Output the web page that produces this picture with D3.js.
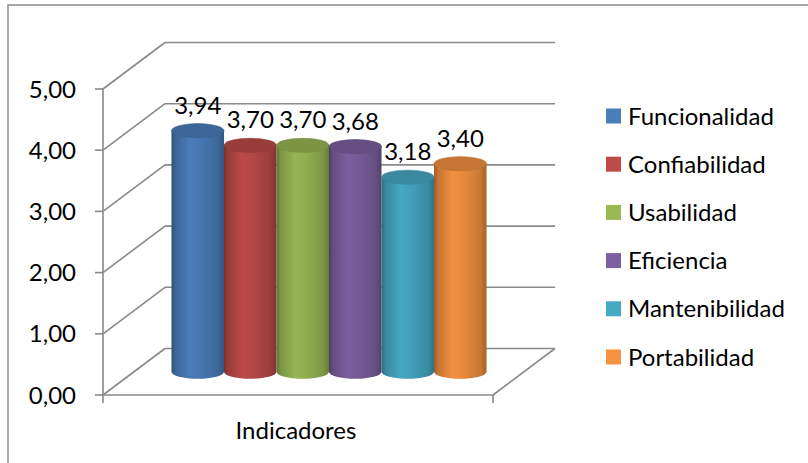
<!DOCTYPE html>
<html>
<head>
<meta charset="utf-8">
<script src="https://cdn.jsdelivr.net/npm/d3@7"></script>
<style>
  html, body { margin: 0; padding: 0; background: #fff; }
  svg { display: block; font-family: Lato, "Open Sans", sans-serif; }
</style>
</head>
<body>
<svg id="chart" width="808" height="463"></svg>
<script>
// Chart data
const categories = ["Indicadores"];
const seriesNames = ["Funcionalidad", "Confiabilidad", "Usabilidad", "Eficiencia", "Mantenibilidad", "Portabilidad"];
const seriesValues = [3.94, 3.70, 3.70, 3.68, 3.18, 3.40];
const seriesColors = ["#4A7EBB", "#BE4B48", "#98B954", "#7D60A0", "#46AAC5", "#F69240"];
const tickValues = [0, 1, 2, 3, 4, 5];

const svg = d3.select("#chart");
const locale = d3.formatLocale({ decimal: ",", thousands: ".", grouping: [3], currency: ["", ""] });
const fmt = locale.format(".2f");

// Front plane scales; the back wall is the front plane shifted by (depthX, depthY)
const yFront = d3.scaleLinear().domain([0, 5]).range([395, 89]);
const x0 = d3.scaleBand().domain(categories).range([103, 493]);
const x1 = d3.scaleBand().domain(seriesNames).range([0, x0.bandwidth()])
  .paddingInner(0).paddingOuter(0.714);
const depthX = 62, depthY = -46.5;
const gridColor = "#8a8a8a";
const fontSize = 24;

// Outer chart frame
svg.append("rect")
  .attr("x", 8).attr("y", 5).attr("width", 830).attr("height", 500)
  .attr("fill", "none").attr("stroke", gridColor).attr("stroke-width", 1.5);

const grid = svg.append("g").attr("stroke", gridColor).attr("stroke-width", 1.6).attr("fill", "none");
const xL = x0.range()[0], xR = x0.range()[1];

// Back wall gridlines and side wall diagonals
tickValues.forEach(t => {
  const yf = yFront(t), yb = yf + depthY;
  grid.append("line").attr("x1", xL + depthX).attr("y1", yb).attr("x2", xR + depthX).attr("y2", yb);
  grid.append("line").attr("x1", xL).attr("y1", yf).attr("x2", xL + depthX).attr("y2", yb);
  // tick marks on the value axis
  grid.append("line").attr("x1", xL - 8).attr("y1", yf).attr("x2", xL).attr("y2", yf);
});
// Value axis line, floor front and right edges
const y0 = yFront(0);
grid.append("line").attr("x1", xL).attr("y1", yFront(5)).attr("x2", xL).attr("y2", y0 + 8);
grid.append("line").attr("x1", xL).attr("y1", y0).attr("x2", xR).attr("y2", y0);
grid.append("line").attr("x1", xR).attr("y1", y0).attr("x2", xR + depthX).attr("y2", y0 + depthY);
grid.append("line").attr("x1", xR).attr("y1", y0).attr("x2", xR).attr("y2", y0 + 8);

// Value axis labels
svg.append("g").selectAll("text").data(tickValues).join("text")
  .attr("x", 76).attr("y", d => yFront(d))
  .attr("dy", "0.36em")
  .attr("text-anchor", "end")
  .attr("font-size", fontSize).attr("fill", "#000")
  .text(d => fmt(d));

// Category label
svg.append("text")
  .attr("x", x0(categories[0]) + x0.bandwidth() / 2 - 2).attr("y", 439)
  .attr("text-anchor", "middle").attr("font-size", fontSize).attr("fill", "#000")
  .text(categories[0]);

// Cylinder gradients: dark rim on the left, highlight left of centre, shading to the right
const defs = svg.append("defs");
seriesColors.forEach((c, i) => {
  const base = d3.color(c);
  const g = defs.append("linearGradient").attr("id", "cyl" + i)
    .attr("x1", 0).attr("x2", 1).attr("y1", 0).attr("y2", 0);
  [[0, base.darker(1.3)], [0.08, base.darker(0.6)], [0.35, base.darker(0.05)],
   [0.6, base.darker(0.2)], [0.88, base.darker(0.55)], [1, base.darker(1.1)]]
    .forEach(([o, col]) => g.append("stop").attr("offset", o).attr("stop-color", col.formatHex()));
});

// Cylinders stand halfway into the depth
const midX = depthX / 2, midY = depthY / 2;
const rx = x1.bandwidth() / 2, ry = 7;
const bars = svg.append("g");
seriesNames.forEach((name, i) => {
  const v = seriesValues[i];
  const left = x0(categories[0]) + x1(name) + midX;
  const right = left + x1.bandwidth();
  const cx = (left + right) / 2;
  const yTop = yFront(v) + midY;
  const yBot = yFront(0) + midY;
  bars.append("path")
    .attr("d", `M${left},${yTop} L${left},${yBot} A${rx},${ry} 0 0 0 ${right},${yBot} L${right},${yTop} Z`)
    .attr("fill", `url(#cyl${i})`);
  bars.append("ellipse")
    .attr("cx", cx).attr("cy", yTop).attr("rx", rx).attr("ry", ry)
    .attr("fill", d3.color(seriesColors[i]).darker(0.6).formatHex())
    .attr("stroke", d3.color(seriesColors[i]).darker(0.8).formatHex()).attr("stroke-width", 0.6);
  svg.append("text")
    .attr("x", cx).attr("y", yTop - 17)
    .attr("text-anchor", "middle").attr("font-size", fontSize).attr("fill", "#000")
    .text(fmt(v));
});

// Legend
const legend = svg.append("g").selectAll("g").data(seriesNames).join("g")
  .attr("transform", (d, i) => `translate(606, ${116 + i * 48.2})`);
legend.append("rect").attr("x", 0).attr("y", -7.5).attr("width", 15).attr("height", 15)
  .attr("fill", (d, i) => seriesColors[i]);
legend.append("text").attr("x", 22).attr("y", 0).attr("dy", "0.36em")
  .attr("font-size", fontSize).attr("fill", "#000")
  .text(d => d);
</script>
</body>
</html>
